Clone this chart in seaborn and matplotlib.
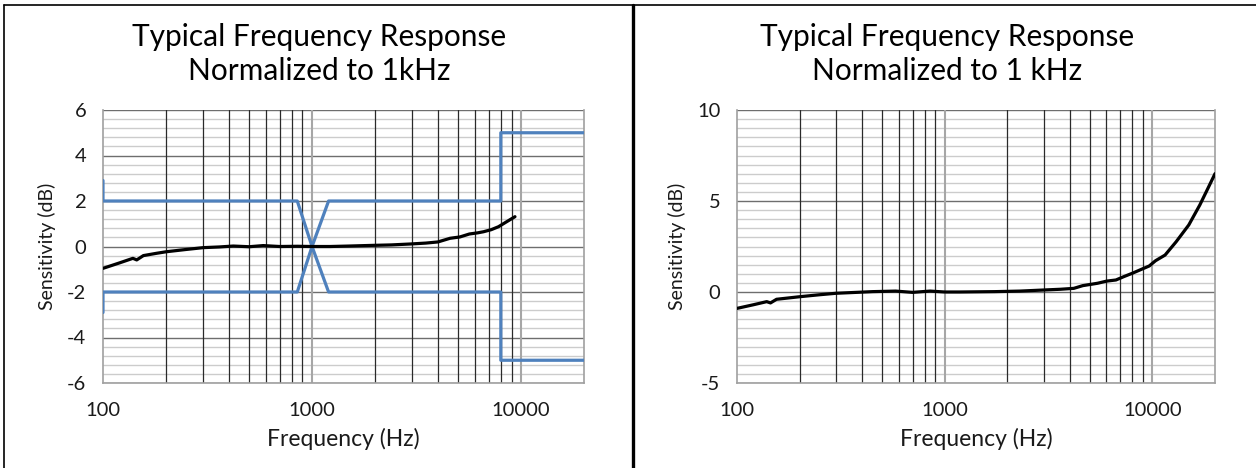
import numpy as np
import pandas as pd
import matplotlib
matplotlib.use("Agg")
import matplotlib.pyplot as plt
import seaborn as sns
from matplotlib.lines import Line2D
from matplotlib.ticker import FixedLocator, MultipleLocator, NullFormatter

# left panel: measured response (Hz, dB)
left_freq = [100, 120, 139, 145, 156, 180, 201, 250, 302, 360, 420, 500, 584, 700,
             850, 1000, 1220, 1500, 1960, 2400, 2950, 3500, 4000, 4570, 5100, 5660,
             6200, 6620, 7200, 7800, 8500, 9350]
left_db = [-0.96, -0.72, -0.52, -0.59, -0.40, -0.30, -0.23, -0.13, -0.05, -0.02, 0.02,
           -0.01, 0.04, 0.00, 0.01, 0.00, 0.00, 0.02, 0.05, 0.07, 0.11, 0.15, 0.20,
           0.36, 0.42, 0.55, 0.60, 0.65, 0.74, 0.87, 1.08, 1.31]

# left panel: tolerance limits
limit_freq = [100, 100, 850, 1000, 1200, 8000, 8000, 20000]
limit_upper = [2.9, 2, 2, 0, 2, 2, 5, 5]
limit_lower = [-2.9, -2, -2, 0, -2, -2, -5, -5]

# right panel: measured response (Hz, dB)
right_freq = [100, 120, 139, 145, 155, 200, 250, 300, 450, 580, 700, 850, 1000, 1180,
              1740, 2300, 3000, 3600, 4180, 4620, 5440, 6030, 6670, 7300, 8000, 8700,
              9650, 10350, 11500, 13000, 14950, 16900, 18500, 20000]
right_db = [-0.90, -0.70, -0.53, -0.60, -0.40, -0.26, -0.15, -0.07, 0.02, 0.05, -0.02,
            0.05, 0.00, 0.00, 0.02, 0.05, 0.11, 0.15, 0.20, 0.35, 0.48, 0.60, 0.66,
            0.85, 1.03, 1.21, 1.43, 1.72, 2.03, 2.76, 3.68, 4.78, 5.70, 6.50]

titles = ["Typical Frequency Response\nNormalized to 1kHz",
          "Typical Frequency Response\nNormalized to 1 kHz"]

sns.set_style("white")
plt.rcParams['font.family'] = ['Lato', 'DejaVu Sans']
plt.rcParams['axes.unicode_minus'] = False

W, H = 1256, 468
fig = plt.figure(figsize=(W / 100, H / 100), dpi=100)

ax1 = fig.add_axes([103 / W, 1 - 383 / H, 481 / W, 273 / H])
ax2 = fig.add_axes([737 / W, 1 - 383 / H, 478 / W, 273 / H])

df_left = pd.DataFrame({'freq': left_freq, 'db': left_db})
df_lim = pd.DataFrame({'freq': limit_freq, 'up': limit_upper, 'lo': limit_lower})
df_right = pd.DataFrame({'freq': right_freq, 'db': right_db})

blue = '#4F81BD'
sns.lineplot(data=df_lim, x='freq', y='up', color=blue, lw=2.3, sort=False,
             estimator=None, ax=ax1, zorder=3)
sns.lineplot(data=df_lim, x='freq', y='lo', color=blue, lw=2.3, sort=False,
             estimator=None, ax=ax1, zorder=3)
sns.lineplot(data=df_left, x='freq', y='db', color='black', lw=2.3, sort=False,
             estimator=None, ax=ax1, zorder=4)
sns.lineplot(data=df_right, x='freq', y='db', color='black', lw=2.3, sort=False,
             estimator=None, ax=ax2, zorder=4)

minor_x = [m * d for d in (100, 1000) for m in range(2, 10)]

for ax, (ylo, yhi, ystep, yminor) in [(ax1, (-6, 6, 2, 0.4)), (ax2, (-5, 10, 5, 0.5))]:
    ax.set_xscale('log')
    ax.set_xlim(100, 20000)
    ax.set_ylim(ylo, yhi)
    ax.set_xticks([100, 1000, 10000])
    ax.set_xticklabels(['100', '1000', '10000'])
    ax.xaxis.set_minor_locator(FixedLocator(minor_x))
    ax.xaxis.set_minor_formatter(NullFormatter())
    ax.yaxis.set_major_locator(MultipleLocator(ystep))
    ax.yaxis.set_minor_locator(MultipleLocator(yminor))
    ax.grid(which='major', axis='y', color='#6e6e6e', lw=1.0)
    ax.grid(which='minor', axis='y', color='#cccccc', lw=1.0)
    ax.set_axisbelow(True)
    # vertical grid drawn above the horizontal minor lines
    for f in minor_x:
        ax.axvline(f, color='#2a2a2a', lw=0.9, zorder=1)
    for f in [1000, 10000]:
        ax.axvline(f, color='#a6a6a6', lw=1.5, zorder=1)
    for s in ax.spines.values():
        s.set_color('#a0a0a0')
        s.set_linewidth(1.2)
    ax.spines['top'].set_visible(False)
    ax.tick_params(which='major', axis='both', direction='out', length=5, width=1,
                   color='#a0a0a0', labelsize=14.5, labelcolor='#1a1a1a')
    ax.tick_params(which='major', axis='x', pad=9)
    ax.tick_params(which='major', axis='y', pad=7)
    ax.tick_params(which='minor', length=0)
    ax.set_xlabel('Frequency (Hz)', fontsize=16.5, labelpad=6, color='#1a1a1a')
    ax.set_ylabel('Sensitivity (dB)', fontsize=14, labelpad=8, color='#1a1a1a')

fig.text(319 / W, 1 - 54 / H, titles[0], ha='center', va='center', fontsize=21.5,
         linespacing=1.3, color='black')
fig.text(947 / W, 1 - 54 / H, titles[1], ha='center', va='center', fontsize=21.5,
         linespacing=1.3, color='black')

# frame lines around the panels
fig.add_artist(Line2D([4 / W, 4 / W], [0, 1 - 5 / H], color='black', lw=1.2))
fig.add_artist(Line2D([4 / W, 1], [1 - 5 / H, 1 - 5 / H], color='black', lw=1.2))
fig.add_artist(Line2D([633 / W, 633 / W], [0, 1 - 5 / H], color='black', lw=2.4))

fig.savefig('out.png', dpi=100)
